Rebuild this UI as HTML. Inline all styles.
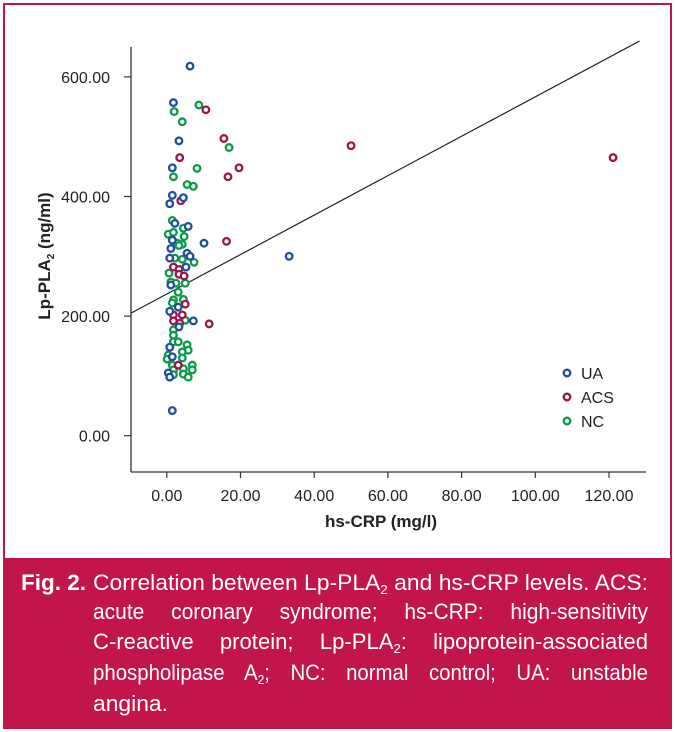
<!DOCTYPE html>
<html><head><meta charset="utf-8">
<style>html,body{margin:0;padding:0;background:#fff}svg{display:block}</style></head>
<body>
<svg id="fig" width="675" height="732" viewBox="0 0 675 732" xmlns="http://www.w3.org/2000/svg" font-family="'Liberation Sans', sans-serif">
<rect x="4" y="4" width="667" height="724" fill="#fff" stroke="#c2154a" stroke-width="2"/>
<g id="plot"></g>
<g>
  <circle cx="567" cy="373" r="3.3" fill="#fff" stroke="#1f4e9a" stroke-width="2.3"/>
  <text x="581" y="379" font-size="16" fill="#222">UA</text>
  <circle cx="567" cy="397" r="3.3" fill="#fff" stroke="#9c1547" stroke-width="2.3"/>
  <text x="581" y="403" font-size="16" fill="#222">ACS</text>
  <circle cx="567" cy="421" r="3.3" fill="#fff" stroke="#0b9a4a" stroke-width="2.3"/>
  <text x="581" y="427" font-size="16" fill="#222">NC</text>
</g>
<text x="381" y="527" font-size="17" font-weight="bold" fill="#222" text-anchor="middle">hs-CRP (mg/l)</text>
<text transform="translate(50,256) rotate(-90)" font-size="17" font-weight="bold" fill="#222" text-anchor="middle">Lp-PLA<tspan font-size="10" dy="4">2</tspan><tspan dy="-4"> (ng/ml)</tspan></text>
<g>
  <rect x="4" y="558" width="667" height="170" fill="#c2154a"/>
  <g fill="#fff" font-size="22">
    <text x="21" y="590" font-weight="bold" textLength="65" lengthAdjust="spacingAndGlyphs">Fig. 2.</text>
    <text x="93" y="590" textLength="555" lengthAdjust="spacingAndGlyphs">Correlation between Lp-PLA<tspan font-size="13" dy="4">2</tspan><tspan dy="-4"> and hs-CRP levels. ACS:</tspan></text>
    <text x="93" y="619" textLength="555" lengthAdjust="spacingAndGlyphs" word-spacing="22">acute coronary syndrome; hs-CRP: high-sensitivity</text>
    <text x="93" y="649" textLength="555" lengthAdjust="spacingAndGlyphs" word-spacing="20">C-reactive protein; Lp-PLA<tspan font-size="13" dy="4">2</tspan><tspan dy="-4">: lipoprotein-associated</tspan></text>
    <text x="93" y="680" textLength="555" lengthAdjust="spacingAndGlyphs" word-spacing="16">phospholipase A<tspan font-size="13" dy="4">2</tspan><tspan dy="-4">; NC: normal control; UA: unstable</tspan></text>
    <text x="93" y="711" textLength="75" lengthAdjust="spacingAndGlyphs">angina.</text>
  </g>
</g>
</svg>
<script>
const uaX=[6.3,1.8,3.3,1.5,1.5,0.8,4.5,2.2,5.8,1.5,10.1,1.1,0.8,5.5,6.3,5.2,1.1,0.8,3.1,7.2,3.3,0.8,1.5,0.4,0.8,1.5,33.2];
const uaY=[618,557,493,448,402,388,398,355,350,327,322,313,297,305,300,282,252,208,215,192,182,148,132,105,98,42,300];
const acsX=[10.6,15.5,19.6,16.6,3.5,3.8,16.2,1.8,3.3,3.3,4.7,5.0,1.8,4.2,1.8,3.5,11.5,3.1,50.0,121.1];
const acsY=[545,497,448,433,465,393,325,282,278,270,267,220,202,202,192,188,187,118,485,465];
const ncX=[8.7,2.0,4.2,16.9,8.2,1.8,5.5,7.2,1.5,4.5,0.4,1.8,4.7,2.8,4.2,3.3,2.2,4.2,7.4,0.6,1.1,2.5,5.0,3.1,1.8,4.5,1.5,5.0,1.8,1.8,1.8,3.1,5.5,5.8,4.2,0.4,0.1,4.2,1.5,6.9,4.5,6.9,1.8,4.5,5.8,1.8];
const ncY=[553,542,525,482,447,433,420,417,360,347,337,340,333,322,320,318,297,295,290,272,257,255,255,240,227,228,222,193,177,168,157,157,152,143,140,135,128,130,118,118,112,110,110,103,98,102];
const xTicks=[0,20,40,60,80,100,120];
const yTicks=[0,200,400,600];
const fitIntercept=237, fitSlope=3.297, fitRange=[-9.7,128.3];

const NS='http://www.w3.org/2000/svg';
const sx=v=>166.8+v*3.685;
const sy=v=>435.7-v*0.598;
const g=document.getElementById('plot');
function mk(t,a){const e=document.createElementNS(NS,t);for(const k in a)e.setAttribute(k,a[k]);g.appendChild(e);return e;}
let e;
e=mk('line',{x1:131,y1:47,x2:131,y2:472,stroke:'#333','stroke-width':1.3});


e=mk('line',{x1:131,y1:472,x2:646,y2:472,stroke:'#333','stroke-width':1.3});


xTicks.forEach(v=>{
  e=mk('line',{x1:sx(v),y1:472,x2:sx(v),y2:478,stroke:'#333','stroke-width':1.2});
  
  
  e=mk('text',{x:sx(v),y:501,'font-size':16,fill:'#222','text-anchor':'middle'});
  e.textContent=v.toFixed(2);
  
  
});
yTicks.forEach(v=>{
  e=mk('line',{x1:124,y1:sy(v),x2:131,y2:sy(v),stroke:'#333','stroke-width':1.2});
  
  
  e=mk('text',{x:110,y:sy(v)+6,'font-size':16,fill:'#222','text-anchor':'end'});
  e.textContent=v.toFixed(2);
  
  
});
e=mk('line',{x1:sx(fitRange[0]),y1:sy(fitIntercept+fitSlope*fitRange[0]),x2:sx(fitRange[1]),y2:sy(fitIntercept+fitSlope*fitRange[1]),stroke:'#222','stroke-width':1.2});


function series(xs,ys,col,name){
  xs.forEach((x,i)=>{
    const c=mk('circle',{cx:sx(x),cy:sy(ys[i]),r:3.3,fill:'#fff',stroke:col,'stroke-width':2.3});
    
    
  });
}
series(ncX,ncY,'#0b9a4a','point-nc');
series(acsX,acsY,'#9c1547','point-acs');
series(uaX,uaY,'#1f4e9a','point-ua');
</script>
</body></html>
